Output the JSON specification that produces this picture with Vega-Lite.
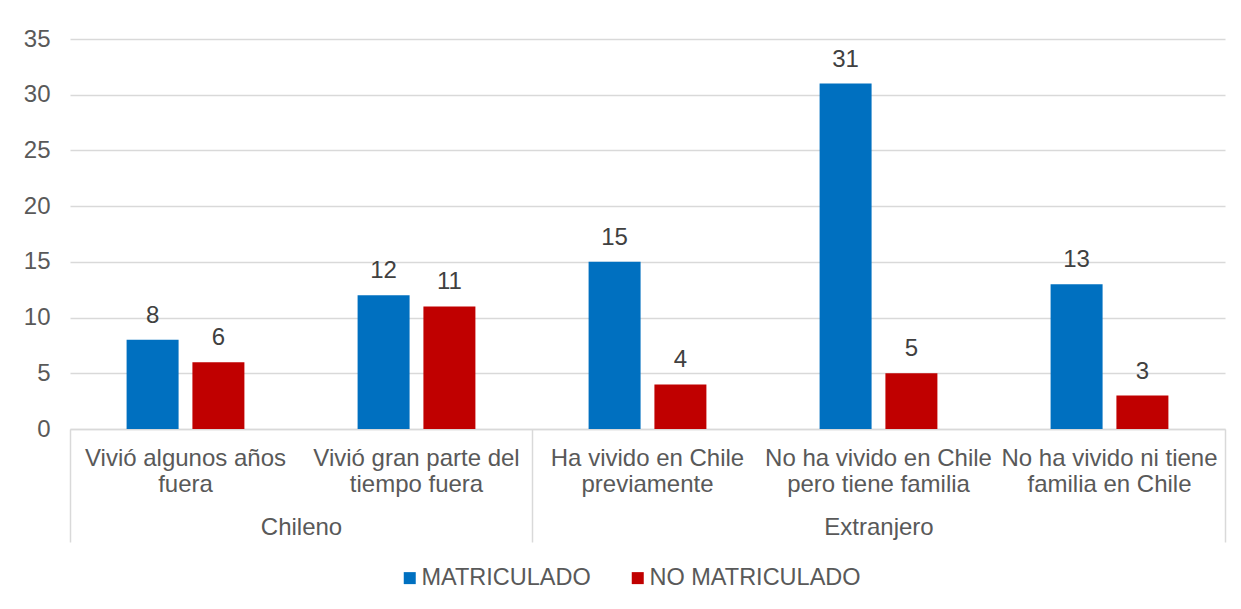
{
  "$schema": "https://vega.github.io/schema/vega-lite/v6.json",
  "width": 1155,
  "height": 390,
  "autosize": {"type": "none"},
  "padding": {"left": 70, "top": 39, "right": 16, "bottom": 180},
  "background": "white",
  "config": {"font": "Liberation Sans", "view": {"stroke": null}},
  "datasets": {
    "bars": [
      {"group": "Chileno", "sub": "Vivió algunos años\nfuera", "series": "MATRICULADO", "value": 8},
      {"group": "Chileno", "sub": "Vivió algunos años\nfuera", "series": "NO MATRICULADO", "value": 6},
      {"group": "Chileno", "sub": "Vivió gran parte del\ntiempo fuera", "series": "MATRICULADO", "value": 12},
      {"group": "Chileno", "sub": "Vivió gran parte del\ntiempo fuera", "series": "NO MATRICULADO", "value": 11},
      {"group": "Extranjero", "sub": "Ha vivido en Chile\npreviamente", "series": "MATRICULADO", "value": 15},
      {"group": "Extranjero", "sub": "Ha vivido en Chile\npreviamente", "series": "NO MATRICULADO", "value": 4},
      {"group": "Extranjero", "sub": "No ha vivido en Chile\npero tiene familia", "series": "MATRICULADO", "value": 31},
      {"group": "Extranjero", "sub": "No ha vivido en Chile\npero tiene familia", "series": "NO MATRICULADO", "value": 5},
      {"group": "Extranjero", "sub": "No ha vivido ni tiene\nfamilia en Chile", "series": "MATRICULADO", "value": 13},
      {"group": "Extranjero", "sub": "No ha vivido ni tiene\nfamilia en Chile", "series": "NO MATRICULADO", "value": 3}
    ],
    "groups": [
      {"group": "Chileno", "mid": 1},
      {"group": "Extranjero", "mid": 3.5}
    ]
  },
  "layer": [
    {
      "data": {"name": "bars"},
      "encoding": {
        "x": {
          "field": "sub",
          "type": "nominal",
          "sort": ["Vivió algunos años\nfuera", "Vivió gran parte del\ntiempo fuera", "Ha vivido en Chile\npreviamente", "No ha vivido en Chile\npero tiene familia", "No ha vivido ni tiene\nfamilia en Chile"],
          "scale": {"paddingInner": 0.49, "paddingOuter": 0.245},
          "axis": {
            "title": null,
            "orient": "bottom",
            "labelAngle": 0,
            "labelExpr": "split(datum.label, '\\n')",
            "labelFontSize": 24,
            "labelColor": "#595959",
            "labelLineHeight": 26,
            "labelPadding": 36,
            "labelBaseline": "alphabetic",
            "labelLimit": 0,
            "ticks": false,
            "domainColor": "#d9d9d9",
            "domainWidth": 1.5
          }
        },
        "xOffset": {
          "field": "series",
          "type": "nominal",
          "sort": ["MATRICULADO", "NO MATRICULADO"],
          "scale": {"paddingInner": 0.21, "paddingOuter": 0}
        },
        "y": {
          "field": "value",
          "type": "quantitative",
          "scale": {"domain": [0, 35], "nice": false},
          "axis": {
            "title": null,
            "values": [0, 5, 10, 15, 20, 25, 30, 35],
            "domain": false,
            "ticks": false,
            "labelPadding": 20,
            "labelFontSize": 24,
            "labelColor": "#595959",
            "gridColor": "#d9d9d9",
            "gridWidth": 1.5
          }
        }
      },
      "layer": [
        {
          "mark": {"type": "bar"},
          "encoding": {
            "color": {
              "field": "series",
              "type": "nominal",
              "scale": {"domain": ["MATRICULADO", "NO MATRICULADO"], "range": ["#0070C0", "#C00000"]},
              "legend": {
                "title": null,
                "orient": "none",
                "legendX": 328,
                "legendY": 527,
                "direction": "horizontal",
                "symbolType": "square",
                "symbolSize": 144,
                "symbolStrokeWidth": 0,
                "labelFontSize": 23.5,
                "labelColor": "#595959",
                "labelOffset": 0,
                "columnPadding": 35,
                "padding": 0,
                "labelLimit": 0
              }
            }
          }
        },
        {
          "mark": {"type": "text", "baseline": "alphabetic", "dy": -17, "fontSize": 24, "color": "#404040"},
          "encoding": {"text": {"field": "value", "type": "quantitative"}}
        }
      ]
    },
    {
      "data": {"name": "groups"},
      "mark": {"type": "point", "opacity": 0},
      "encoding": {
        "x": {
          "field": "mid",
          "type": "quantitative",
          "scale": {"domain": [0, 5], "nice": false, "zero": false},
          "axis": {
            "title": null,
            "orient": "bottom",
            "values": [0, 1, 2, 3.5, 5],
            "domain": false,
            "grid": false,
            "tickSize": 113,
            "tickColor": "#d9d9d9",
            "tickWidth": 1.5,
            "tickOpacity": {"condition": {"test": "datum.value == 1 || datum.value == 3.5", "value": 0}, "value": 1},
            "labelExpr": "datum.value == 1 ? 'Chileno' : datum.value == 3.5 ? 'Extranjero' : ''",
            "labelFontSize": 24,
            "labelColor": "#595959",
            "labelPadding": -8,
            "labelBaseline": "alphabetic",
            "labelFlush": false,
            "labelOverlap": false
          }
        }
      }
    }
  ],
  "resolve": {"scale": {"x": "independent"}}
}
